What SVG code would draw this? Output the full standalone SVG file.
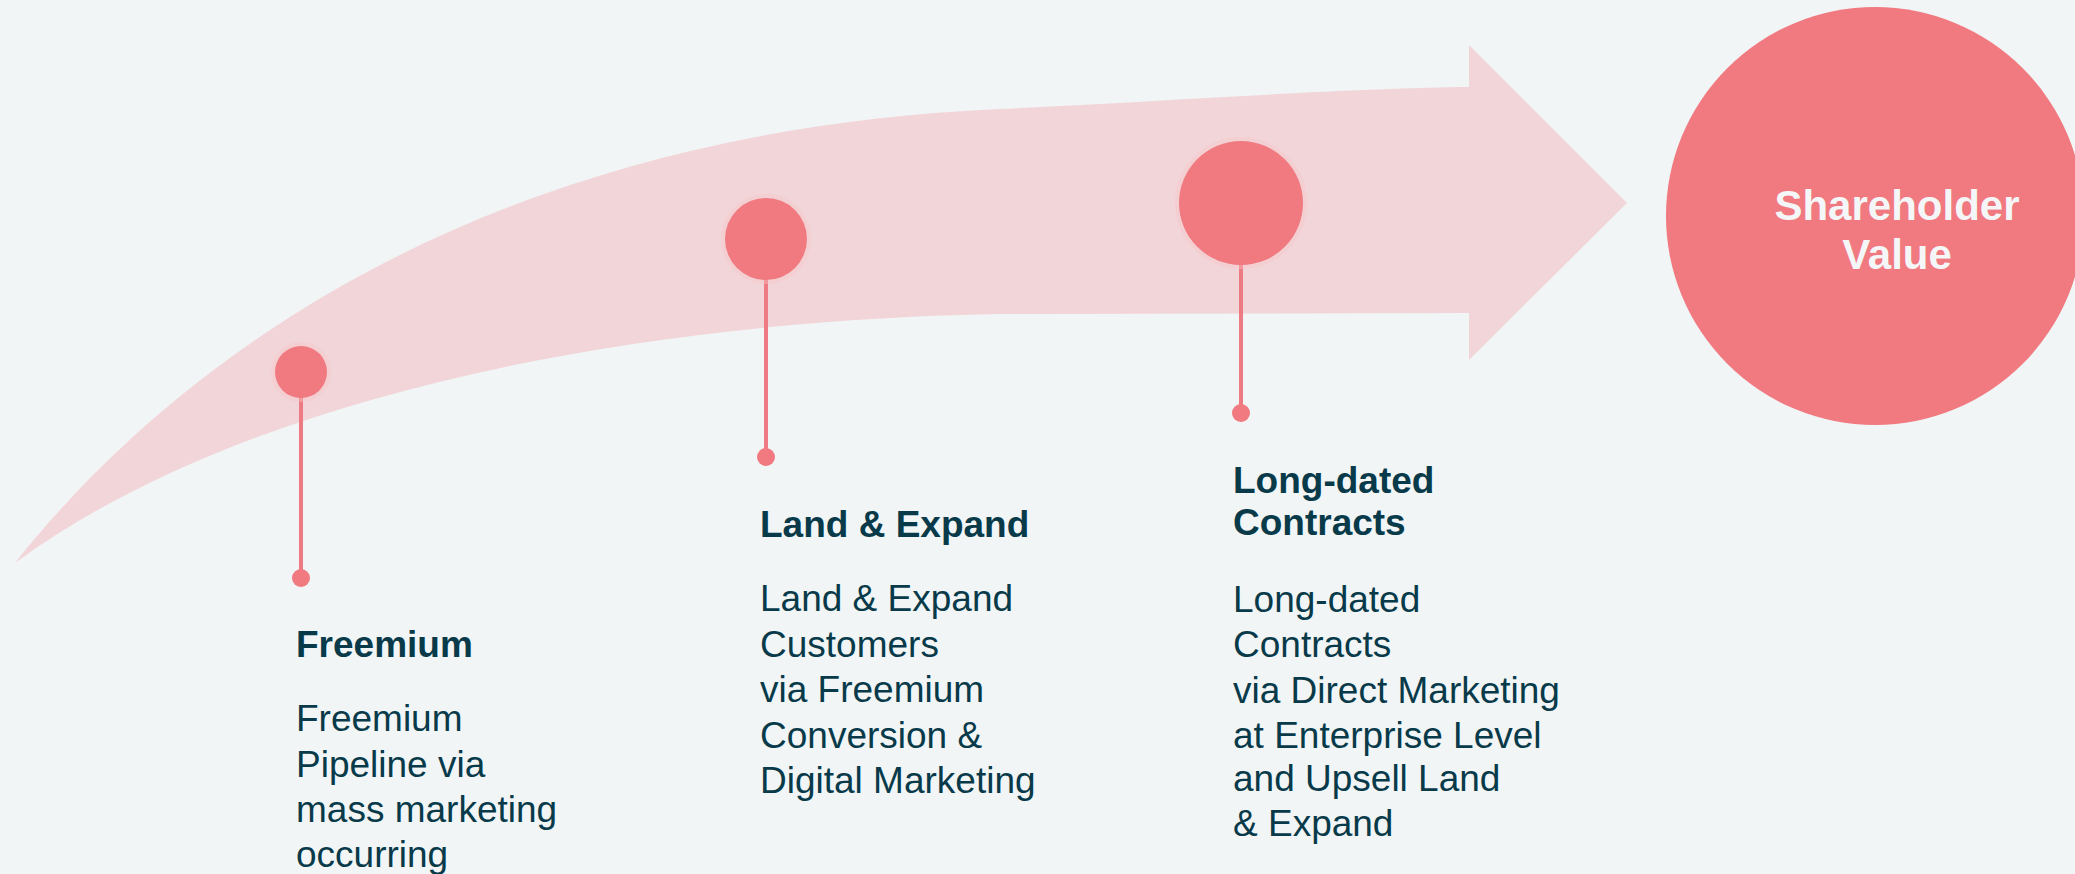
<svg xmlns="http://www.w3.org/2000/svg" width="2075" height="874" viewBox="0 0 2075 874">
  <style>
    .band { fill: #f2d5d8; }
    .dot { fill: #f17980; }
    .halo { fill: none; stroke: #f7c6ca; stroke-width: 4; opacity: 0.4; }
    .stem { stroke: #ee7a83; stroke-width: 4; fill: none; }
    .title { font-family: "Liberation Sans", Arial, sans-serif; font-weight: bold; font-size: 37px; fill: #083a4a; }
    .body { font-family: "Liberation Sans", Arial, sans-serif; font-size: 37px; fill: #083a4a; }
    .goal { font-family: "Liberation Sans", Arial, sans-serif; font-weight: bold; font-size: 42px; fill: #f4f6f8; text-anchor: middle; }
  </style>

  <rect x="0" y="0" width="2075" height="874" fill="#f1f5f6"/>

  <!-- curved growth arrow -->
  <g id="connectors">
    <path class="band" d="M15,563 C200,330 520,130 1000,109 C1150,102 1350,88 1469,87 L1469,45 L1627,203 L1469,360 L1469,313 L1000,314 C650,320 250,390 15,563 Z"/>
  </g>

  <!-- stage 1 -->
  <g id="freemium">
    <line class="stem" x1="301" y1="372" x2="301" y2="578"/>
    <circle class="halo" cx="301" cy="372" r="28"/>
    <circle class="dot" cx="301" cy="372" r="26"/>
    <circle class="dot" cx="301" cy="578" r="9"/>
    <text class="title" x="296" y="657">Freemium</text>
    <text class="body" x="296" y="731">Freemium</text>
    <text class="body" x="296" y="776.5">Pipeline via</text>
    <text class="body" x="296" y="822">mass marketing</text>
    <text class="body" x="296" y="867">occurring</text>
  </g>

  <!-- stage 2 -->
  <g id="land-expand">
    <line class="stem" x1="766" y1="239" x2="766" y2="457"/>
    <circle class="halo" cx="766" cy="239" r="43"/>
    <circle class="dot" cx="766" cy="239" r="41"/>
    <circle class="dot" cx="766" cy="457" r="9"/>
    <text class="title" x="760" y="537">Land &amp; Expand</text>
    <text class="body" x="760" y="611">Land &amp; Expand</text>
    <text class="body" x="760" y="656.5">Customers</text>
    <text class="body" x="760" y="702">via Freemium</text>
    <text class="body" x="760" y="747.5">Conversion &amp;</text>
    <text class="body" x="760" y="793">Digital Marketing</text>
  </g>

  <!-- stage 3 -->
  <g id="long-dated">
    <line class="stem" x1="1241" y1="203" x2="1241" y2="413"/>
    <circle class="halo" cx="1241" cy="203" r="64"/>
    <circle class="dot" cx="1241" cy="203" r="62"/>
    <circle class="dot" cx="1241" cy="413" r="9"/>
    <text class="title" x="1233" y="493">Long-dated</text>
    <text class="title" x="1233" y="535">Contracts</text>
    <text class="body" x="1233" y="611.5">Long-dated</text>
    <text class="body" x="1233" y="657">Contracts</text>
    <text class="body" x="1233" y="702.5">via Direct Marketing</text>
    <text class="body" x="1233" y="748">at Enterprise Level</text>
    <text class="body" x="1233" y="791">and Upsell Land</text>
    <text class="body" x="1233" y="836">&amp; Expand</text>
  </g>

  <!-- outcome -->
  <g id="shareholder-value">
    <circle class="dot" cx="1875" cy="216" r="209"/>
    <text class="goal" x="1897" y="220">Shareholder</text>
    <text class="goal" x="1897" y="269">Value</text>
  </g>
</svg>
